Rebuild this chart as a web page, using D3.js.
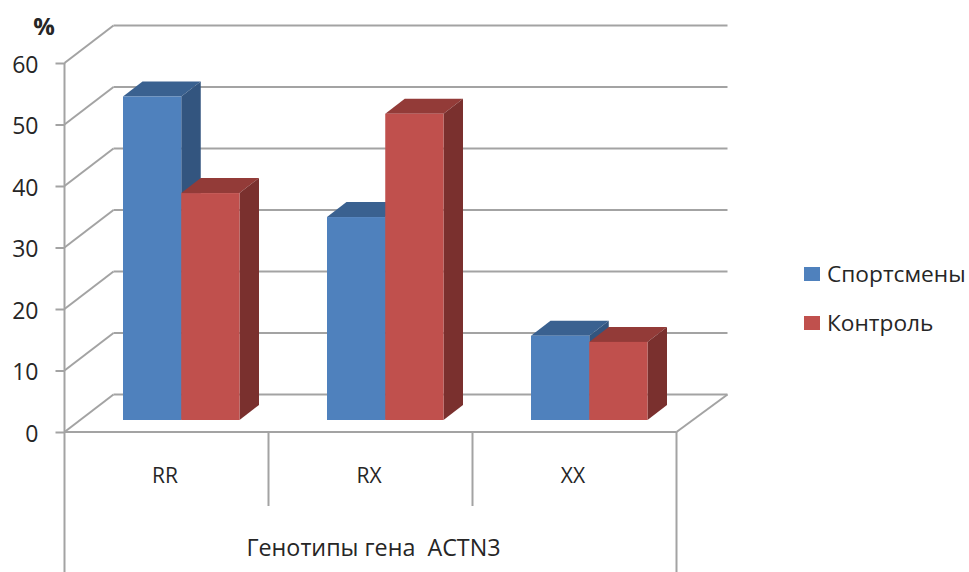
<!DOCTYPE html>
<html>
<head>
<meta charset="utf-8">
<style>
  html, body { margin: 0; padding: 0; background: #fff; }
  svg { display: block; }
  text { font-family: "Open Sans", "Noto Sans", sans-serif; fill: #262626; }
</style>
<script src="https://cdn.jsdelivr.net/npm/d3@7"></script>
</head>
<body>
<svg id="chart" width="969" height="572"></svg>
<script>
// Genotype shares, percent
const categories = ["RR", "RX", "XX"];
const seriesNames = ["Спортсмены", "Контроль"];
const athletes = [52.6, 33, 13.7];
const controls = [36.9, 49.8, 12.7];
const yTicks = [0, 10, 20, 30, 40, 50, 60];
const axisTitle = "Генотипы гена  ACTN3";
const unitLabel = "%";

const palette = {
  "Спортсмены": { front: "#4f81bd", top: "#3a6190", side: "#33557f" },
  "Контроль": { front: "#c0504d", top: "#933b38", side: "#7a302e" }
};
const gridColor = "#a3a3a3";

const svg = d3.select("#chart");

// Plot frame and the oblique offset of the back wall
const plotLeft = 64.5, plotRight = 676.5, plotBase = 432, plotTop = 63;
const wallDx = 49, wallDy = -37.5;
// Bars sit part-way into the floor with a shallower depth
const barInsetDy = -12, barDepthX = 19.5, barDepthY = -15;

const x = d3.scaleBand().domain(categories).range([plotLeft, plotRight]);
const y = d3.scaleLinear().domain([0, 60]).range([plotBase, plotTop]);
const inner = d3.scaleBand().domain(seriesNames).range([58.5, 58.5 + 116.5]);

const grid = svg.append("g").attr("fill", "none").attr("stroke", gridColor).attr("stroke-width", 2);

// Back wall lines plus the diagonal lines running along the left side
yTicks.forEach(t => {
  grid.append("line")
    .attr("x1", plotLeft + wallDx).attr("x2", plotRight + wallDx + 2)
    .attr("y1", y(t) + wallDy).attr("y2", y(t) + wallDy);
  grid.append("line")
    .attr("x1", plotLeft).attr("x2", plotLeft + wallDx)
    .attr("y1", y(t)).attr("y2", y(t) + wallDy);
});

// Floor edges: right diagonal and front edge
grid.append("line")
  .attr("x1", plotRight).attr("x2", plotRight + wallDx + 2)
  .attr("y1", plotBase).attr("y2", plotBase + wallDy);
grid.append("line")
  .attr("x1", plotLeft).attr("x2", plotRight)
  .attr("y1", plotBase).attr("y2", plotBase);

// Value axis with labels
const yAxis = d3.axisLeft(y).tickValues(yTicks).tickSize(9).tickPadding(17).tickFormat(d3.format("d"));
const axisG = svg.append("g").attr("transform", `translate(${plotLeft},0)`).call(yAxis);
axisG.select(".domain").remove();
axisG.selectAll("line").attr("stroke", gridColor).attr("stroke-width", 2);
axisG.selectAll("text").attr("font-size", 23).attr("fill", "#262626").attr("dy", "0.4em")
  .style("font-family", '"Open Sans", sans-serif');

svg.append("line").attr("x1", plotLeft).attr("x2", plotLeft).attr("y1", plotTop).attr("y2", 572)
  .attr("stroke", gridColor).attr("stroke-width", 2);

// Multi-level category separators below the floor
[1, 2].forEach(i => {
  const px = plotLeft + x.step() * i;
  svg.append("line").attr("x1", px).attr("x2", px).attr("y1", plotBase).attr("y2", 506)
    .attr("stroke", gridColor).attr("stroke-width", 2);
});
svg.append("line").attr("x1", plotRight).attr("x2", plotRight).attr("y1", plotBase).attr("y2", 572)
  .attr("stroke", gridColor).attr("stroke-width", 2);

// Bars as three faces each, drawn from back to front
const rows = categories.flatMap((c, i) => [
  { cat: c, name: seriesNames[0], value: athletes[i] },
  { cat: c, name: seriesNames[1], value: controls[i] }
]);
const bars = svg.append("g").selectAll("g").data(rows).join("g");

const barBase = plotBase + barInsetDy;
const barTop = d => y(d.value) + barInsetDy;
const x0 = d => x(d.cat) + inner(d.name);
const x1 = d => x0(d) + inner.bandwidth();
const poly = pts => pts.map(p => p.join(",")).join(" ");

bars.append("polygon")
  .attr("fill", d => palette[d.name].top)
  .attr("points", d => poly([
    [x0(d), barTop(d)], [x1(d), barTop(d)],
    [x1(d) + barDepthX, barTop(d) + barDepthY], [x0(d) + barDepthX, barTop(d) + barDepthY]
  ]));
bars.append("polygon")
  .attr("fill", d => palette[d.name].side)
  .attr("points", d => poly([
    [x1(d), barTop(d)], [x1(d) + barDepthX, barTop(d) + barDepthY],
    [x1(d) + barDepthX, barBase + barDepthY], [x1(d), barBase]
  ]));
bars.append("rect")
  .attr("fill", d => palette[d.name].front)
  .attr("x", x0)
  .attr("y", barTop)
  .attr("width", inner.bandwidth())
  .attr("height", d => barBase - barTop(d));

// Category labels, axis title and unit
svg.append("g").selectAll("text").data(categories).join("text")
  .attr("x", d => x(d) + x.bandwidth() / 2 - 1.5)
  .attr("y", 483)
  .attr("text-anchor", "middle")
  .attr("font-size", 21)
  .text(d => d);

svg.append("text").attr("x", 373.5).attr("y", 556).attr("text-anchor", "middle")
  .attr("font-size", 23.3).style("white-space", "pre").text(axisTitle);

svg.append("text").attr("x", 44).attr("y", 35).attr("text-anchor", "middle")
  .attr("font-size", 24).attr("font-weight", 700).text(unitLabel);

// Legend
const legend = svg.append("g").selectAll("g").data(seriesNames).join("g")
  .attr("transform", (d, i) => `translate(804,${267 + i * 49})`);
legend.append("rect").attr("width", 16).attr("height", 14).attr("fill", d => palette[d].front);
legend.append("text").attr("x", 23).attr("y", 15).attr("font-size", 22.7).text(d => d);
</script>
</body>
</html>
